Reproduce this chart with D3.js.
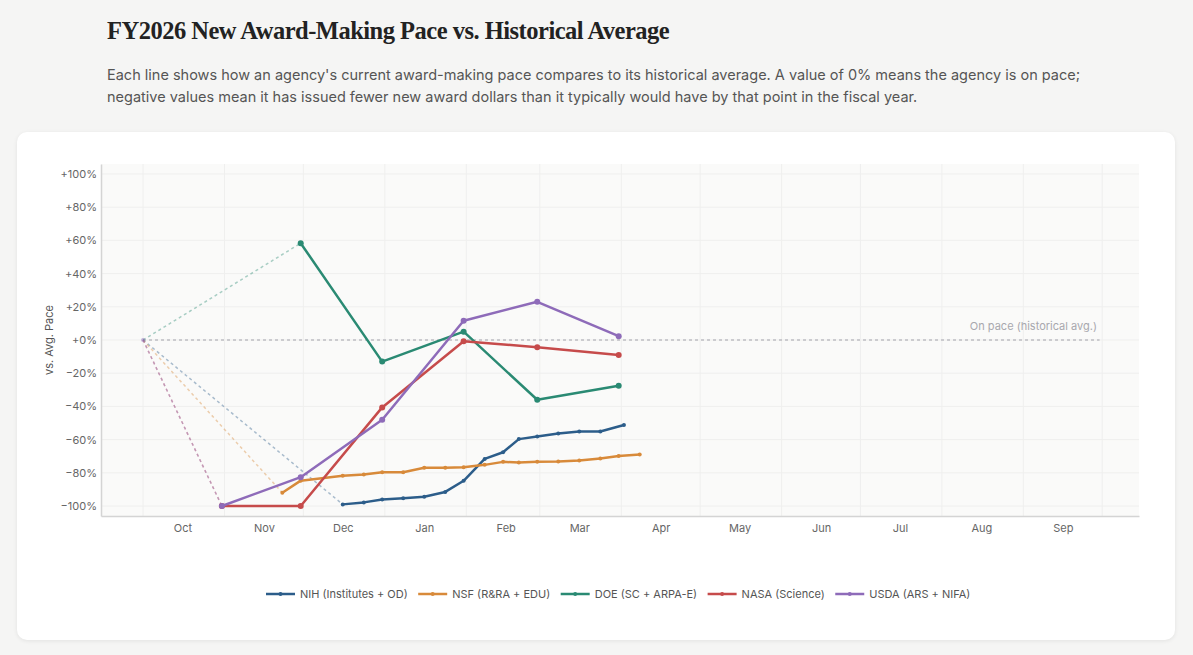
<!DOCTYPE html>
<html lang="en">
<head>
  <meta charset="UTF-8">
  <title>FY2026 New Award-Making Pace</title>
  <script src="https://d3js.org/d3.v7.min.js"></script>
  <style>
    body {
      margin: 0;
      background: #f5f5f4;
      font-family: Inter, "Noto Sans", sans-serif;
    }
    .card {
      position: absolute;
      left: 17px;
      top: 132px;
      width: 1158px;
      height: 508px;
      background: #fff;
      border-radius: 10px;
      box-shadow: 0 1px 4px rgba(0,0,0,0.08);
    }
    svg { position: absolute; left: 0; top: 0; }
    .title {
      font-family: "Liberation Serif", "DejaVu Serif", serif;
      font-weight: bold;
      font-size: 24.5px;
      letter-spacing: -0.5px;
      fill: #222;
    }
    .subtitle { font-size: 14.5px; fill: #555; }
    .tick text { font-size: 11px; fill: #666; font-family: Inter, sans-serif; }
    .legend text { font-size: 11px; fill: #555; }
  </style>
</head>
<body>
  <div class="card"></div>
  <svg width="1193" height="655"></svg>

  <script>
    const parse = d3.timeParse("%Y-%m-%d");

    // series labels and colours
    const agencies = ["NIH (Institutes + OD)", "NSF (R&RA + EDU)", "DOE (SC + ARPA-E)", "NASA (Science)", "USDA (ARS + NIFA)"];
    const colors = ["#2c5d8a", "#d88a3a", "#2a8a73", "#c64b4b", "#8e6bb9"];

    // NIH: weekly points
    const nihDates = ["2025-12-16", "2025-12-24", "2025-12-31", "2026-01-08", "2026-01-16", "2026-01-24", "2026-01-31",
                      "2026-02-08", "2026-02-15", "2026-02-21", "2026-02-28", "2026-03-08", "2026-03-16", "2026-03-24", "2026-04-02"];
    const nihValues = [-99, -97.8, -96, -95.3, -94.4, -91.5, -84.8, -71.6, -67.6, -59.7, -58.1, -56.3, -55.1, -55.1, -51.2];

    // NSF
    const nsfDates = ["2025-11-23", "2025-11-30", "2025-12-16", "2025-12-24", "2025-12-31", "2026-01-08", "2026-01-16",
                      "2026-01-24", "2026-01-31", "2026-02-08", "2026-02-15", "2026-02-21", "2026-02-28", "2026-03-08",
                      "2026-03-16", "2026-03-24", "2026-03-31", "2026-04-08"];
    const nsfValues = [-92, -84.7, -81.7, -81, -79.6, -79.6, -77, -77, -76.6, -75.2, -73.4, -73.8, -73.4, -73.2, -72.6, -71.4, -69.8, -69];

    // DOE, NASA, USDA: month-end points
    const doeDates = ["2025-11-30", "2025-12-31", "2026-01-31", "2026-02-28", "2026-03-31"];
    const doeValues = [58.3, -13, 5, -36, -27.5];

    const nasaDates = ["2025-10-31", "2025-11-30", "2025-12-31", "2026-01-31", "2026-02-28", "2026-03-31"];
    const nasaValues = [-100, -100, -40.6, -0.7, -4.4, -9];

    const usdaDates = ["2025-10-31", "2025-11-30", "2025-12-31", "2026-01-31", "2026-02-28", "2026-03-31"];
    const usdaValues = [-100, -82.6, -48, 11.6, 23, 2.3];

    // month tick labels (placed mid-month)
    const monthLabels = ["Oct", "Nov", "Dec", "Jan", "Feb", "Mar", "Apr", "May", "Jun", "Jul", "Aug", "Sep"];
    const yTicks = [-100, -80, -60, -40, -20, 0, 20, 40, 60, 80, 100];

    const fyStart = parse("2025-10-01");
    const fyEnd = parse("2026-10-01");

    const build = (dates, values) => dates.map((d, i) => ({ date: parse(d), value: values[i] }));
    const series = [
      { name: agencies[0], color: colors[0], r: 2, points: build(nihDates, nihValues) },
      { name: agencies[1], color: colors[1], r: 2, points: build(nsfDates, nsfValues) },
      { name: agencies[2], color: colors[2], r: 3, points: build(doeDates, doeValues) },
      { name: agencies[3], color: colors[3], r: 3, points: build(nasaDates, nasaValues) },
      { name: agencies[4], color: colors[4], r: 3, points: build(usdaDates, usdaValues) }
    ];

    const svg = d3.select("svg");

    // heading
    svg.append("text").attr("class", "title").attr("x", 107).attr("y", 39)
      .text("FY2026 New Award-Making Pace vs. Historical Average");
    svg.append("text").attr("class", "subtitle").attr("x", 107).attr("y", 80)
      .text("Each line shows how an agency's current award-making pace compares to its historical average. A value of 0% means the agency is on pace;");
    svg.append("text").attr("class", "subtitle").attr("x", 107).attr("y", 102)
      .text("negative values mean it has issued fewer new award dollars than it typically would have by that point in the fiscal year.");

    const pLeft = 101, pRight = 1139, pTop = 164, pBottom = 516;

    const x = d3.scaleTime()
      .domain([parse("2025-09-15"), parse("2026-10-15")])
      .range([pLeft, pRight]);
    const y = d3.scaleLinear().domain([-106, 106]).range([pBottom, pTop]);

    // plot background
    svg.append("rect").attr("x", pLeft).attr("y", pTop)
      .attr("width", pRight - pLeft).attr("height", pBottom - pTop)
      .attr("fill", "#fafaf9");

    // grid
    const monthStarts = d3.timeMonth.range(fyStart, d3.timeMonth.offset(fyEnd, 1));
    svg.append("g").selectAll("line").data(monthStarts).join("line")
      .attr("x1", d => x(d)).attr("x2", d => x(d))
      .attr("y1", pTop).attr("y2", pBottom)
      .attr("stroke", "#efefee").attr("stroke-width", 1);
    svg.append("g").selectAll("line").data(yTicks).join("line")
      .attr("x1", pLeft).attr("x2", pRight)
      .attr("y1", d => y(d)).attr("y2", d => y(d))
      .attr("stroke", "#efefee").attr("stroke-width", 1);

    // axes
    const midMonths = d3.timeMonth.range(fyStart, fyEnd).map(d => d3.timeDay.offset(d, 15));
    const xAxis = svg.append("g").attr("transform", `translate(0,${pBottom})`)
      .call(d3.axisBottom(x).tickValues(midMonths).tickSize(0).tickPadding(8)
        .tickFormat((d, i) => monthLabels[i]));
    xAxis.select(".domain").attr("stroke", "#d4d4d4").attr("stroke-width", 1.5);

    const fmt = v => (v < 0 ? "\u2212" : "+") + Math.abs(v) + "%";
    const yAxis = svg.append("g").attr("transform", `translate(${pLeft},0)`)
      .call(d3.axisLeft(y).tickValues(yTicks).tickSize(0).tickPadding(4).tickFormat(fmt));
    yAxis.select(".domain").attr("stroke", "#d4d4d4").attr("stroke-width", 1.5);

    svg.append("text")
      .attr("transform", `translate(49,${y(0)}) rotate(-90)`)
      .attr("text-anchor", "middle").attr("dy", "0.35em")
      .attr("font-size", 11).attr("fill", "#555")
      .text("vs. Avg. Pace");

    // on-pace reference
    svg.append("line")
      .attr("x1", x(fyStart)).attr("x2", x(d3.timeDay.offset(fyEnd, -1)))
      .attr("y1", y(0)).attr("y2", y(0))
      .attr("stroke", "#bdbdc2").attr("stroke-width", 1.5)
      .attr("stroke-dasharray", "3,3");
    svg.append("text")
      .attr("x", x(d3.timeDay.offset(fyEnd, -2))).attr("y", y(0) - 10)
      .attr("text-anchor", "end").attr("font-size", 11).attr("fill", "#a8a8ae")
      .text("On pace (historical avg.)");

    // dashed connectors from the fiscal-year start to each first point
    series.forEach(s => {
      const p = s.points[0];
      svg.append("line")
        .attr("x1", x(fyStart)).attr("y1", y(0))
        .attr("x2", x(p.date)).attr("y2", y(p.value))
        .attr("stroke", s.color).attr("stroke-opacity", 0.4)
        .attr("stroke-width", 1.5).attr("stroke-dasharray", "3,3");
    });
    svg.append("circle").attr("cx", x(fyStart)).attr("cy", y(0)).attr("r", 2)
      .attr("fill", colors[4]).attr("fill-opacity", 0.5);

    // lines
    const line = d3.line().x(d => x(d.date)).y(d => y(d.value));
    series.forEach(s => {
      const g = svg.append("g");
      g.append("path").datum(s.points)
        .attr("d", line).attr("fill", "none")
        .attr("stroke", s.color).attr("stroke-width", 2.5)
        .attr("stroke-linejoin", "round");
      g.selectAll("circle").data(s.points).join("circle")
        .attr("cx", d => x(d.date)).attr("cy", d => y(d.value))
        .attr("r", s.r).attr("fill", s.color);
    });

    // legend
    const legend = svg.append("g").attr("class", "legend");
    let lx = 266;
    series.forEach(s => {
      const item = legend.append("g").attr("transform", `translate(${lx},594)`);
      item.append("line").attr("x1", 0).attr("x2", 29).attr("y1", 0).attr("y2", 0)
        .attr("stroke", s.color).attr("stroke-width", 2.5);
      item.append("circle").attr("cx", 14.5).attr("cy", 0).attr("r", 2).attr("fill", s.color);
      const t = item.append("text").attr("x", 34).attr("y", 4).text(s.name);
      lx += 34 + t.node().getComputedTextLength() + 10.5;
    });
  </script>
</body>
</html>
